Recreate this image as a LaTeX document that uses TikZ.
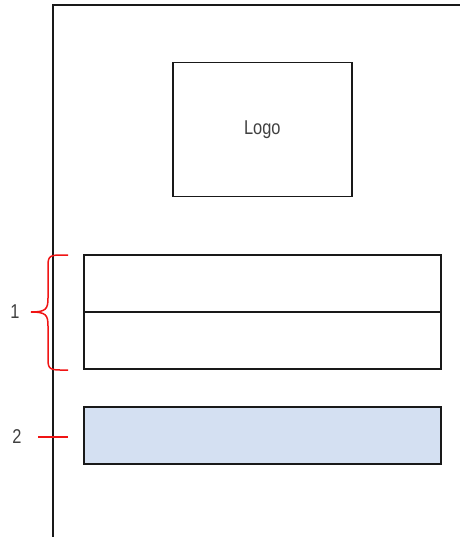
\documentclass[tikz,border=0pt]{standalone}
\usepackage{fontspec}
\setmainfont[FakeStretch=0.82]{Liberation Sans}
\usetikzlibrary{decorations.pathreplacing}
\begin{document}
\begin{tikzpicture}[x=1pt,y=-1pt,
  box/.style={draw=black!90,line width=1.5pt},
  redln/.style={draw={rgb,255:red,240;green,20;blue,20},line width=1.5pt},
  lbl/.style={font=\fontsize{20}{20}\selectfont,text=black!75,inner sep=0pt}]
\useasboundingbox (0,0) rectangle (459,537);
% frame
\draw[box] (460,5) -- (53,5) -- (53,538);
% logo
\node[box,minimum width=179pt,minimum height=134pt,anchor=north west,inner sep=0pt] (logo) at (172,62) {};
\node[lbl] (logotext) at (logo.center) {Logo};
% group 1
\node[box,minimum width=357pt,minimum height=57pt,anchor=north west,inner sep=0pt] (r1) at (83,254) {};
\node[box,minimum width=357pt,minimum height=57pt,anchor=north west,inner sep=0pt] (r2) at (83,311) {};
% group 2
\node[box,fill={rgb,255:red,212;green,224;blue,242},minimum width=357pt,minimum height=57pt,anchor=north west,inner sep=0pt] (r3) at (83,406) {};
% brace 1
\coordinate (bt) at (68,255);
\coordinate (bb) at (68,370);
\draw[redln] (bt) -- (60,255) .. controls (48,255) and (48,258) .. (48,268)
  -- (48,298) .. controls (48,309) and (46,312) .. (31,312);
\draw[redln] (bb) -- (60,370) .. controls (48,370) and (48,367) .. (48,357)
  -- (48,326) .. controls (48,315) and (46,312) .. (31,312);
\node[lbl] (l1) at (15,312) {1};
% mark 2
\coordinate (m2a) at (38,437);
\coordinate (m2b) at (68,437);
\draw[redln] (m2a) -- (m2b);
\node[lbl] (l2) at (17,437) {2};
\end{tikzpicture}
\end{document}
